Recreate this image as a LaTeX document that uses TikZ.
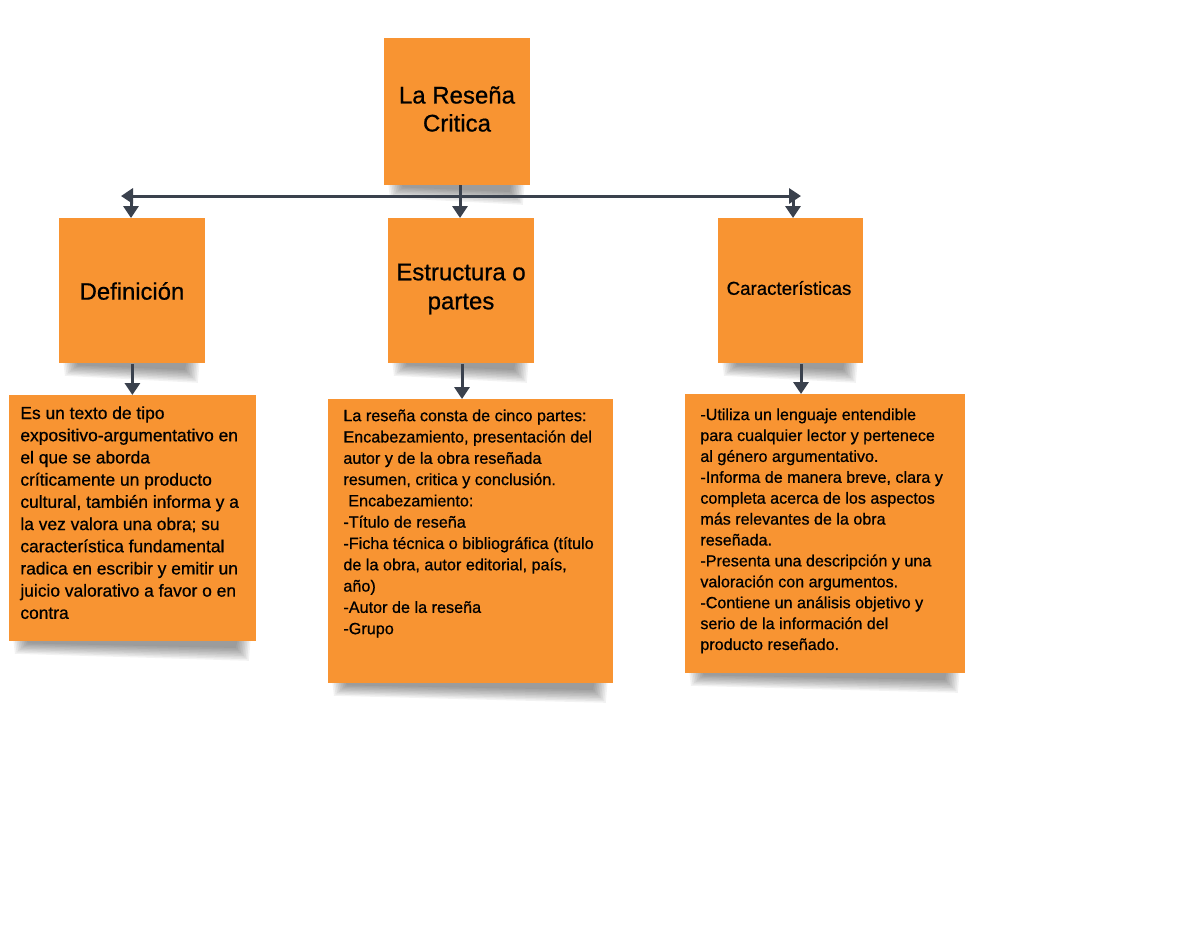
\documentclass[tikz,border=0pt]{standalone}
\usepackage{fontspec}
\setmainfont{Liberation Sans}[FakeBold=0.7]
\usetikzlibrary{arrows.meta,calc}
\definecolor{boxor}{RGB}{248,148,50}
\definecolor{conn}{RGB}{58,65,77}
\pgfdeclarelayer{bg}
\pgfdeclarelayer{shad}
\pgfsetlayers{bg,shad,main}
\tikzset{
  card/.style={fill=boxor, draw=none, inner sep=0pt, anchor=north west},
  desc/.style={anchor=north west, inner sep=0pt, align=left},
  conline/.style={draw=conn, line width=1.5pt},
  tip/.style={-{Triangle[width=7.5pt,length=6pt]}},
  shadlayer/.style={fill=black, fill opacity=0.05},
}
\newcommand{\cardshadow}[1]{%
  \foreach \k in {0,...,8}{%
    \path[shadlayer] ($(#1.south west)+(4+1.6*\k,-4)$) -- ($(#1.south east)+(-6-1.6*\k,-4)$)
      -- ($(#1.south east)+(-8-1.6*\k,19-1.6*\k)$) -- ($(#1.south west)+(6+1.6*\k,12-1.3*\k)$) -- cycle;}}
\begin{document}
\begin{tikzpicture}[x=0.5pt,y=-0.5pt]
\begin{pgfonlayer}{bg}
\fill[white] (0,0) rectangle (1200,927);
\end{pgfonlayer}
\useasboundingbox (0,0) rectangle (1200,927);
% top
\node[card, minimum width=73pt, minimum height=73.5pt] (top) at (384,38) {};
\node[align=center, font=\fontsize{12}{14}\selectfont] (toptxt) at (457,109) {La Reseña\\Critica};
% second level
\node[card, minimum width=73pt, minimum height=72.5pt] (def) at (59,218) {};
\node[font=\fontsize{11.9}{14}\selectfont] (deftxt) at (132,291) {Definición};
\node[card, minimum width=73pt, minimum height=72.5pt] (est) at (388,218) {};
\node[align=center, font=\fontsize{12}{14.5}\selectfont] (esttxt) at (461,289) {Estructura o\\partes};
\node[card, minimum width=72.5pt, minimum height=72.5pt] (car) at (718,218) {};
\node[font=\fontsize{9.35}{11}\selectfont] (cartxt) at (789,288) {Características};
% third level
\node[card, minimum width=123.5pt, minimum height=123pt] (defb) at (9,395) {};
\node[desc, font=\fontsize{8.7}{11.1}\selectfont] (defbtxt) at (20,406) {Es un texto de tipo\\expositivo-argumentativo en\\el que se aborda\\críticamente un producto\\cultural, también informa y a\\la vez valora una obra; su\\característica fundamental\\radica en escribir y emitir un\\juicio valorativo a favor o en\\contra};
\node[card, minimum width=142.5pt, minimum height=142pt] (estb) at (328,399) {};
\node[desc, font=\fontsize{8.1}{10.65}\selectfont] (estbtxt) at (343,409) {La reseña consta de cinco partes:\\Encabezamiento, presentación del\\autor y de la obra reseñada\\resumen, critica y conclusión.\\\hspace*{0.3em}Encabezamiento:\\-Título de reseña\\-Ficha técnica o bibliográfica (título\\de la obra, autor editorial, país,\\año)\\-Autor de la reseña\\-Grupo};
\node[card, minimum width=140pt, minimum height=139.5pt] (carb) at (685,394) {};
\node[desc, font=\fontsize{8.05}{10.45}\selectfont] (carbtxt) at (700,408) {-Utiliza un lenguaje entendible\\para cualquier lector y pertenece\\al género argumentativo.\\-Informa de manera breve, clara y\\completa acerca de los aspectos\\más relevantes de la obra\\reseñada.\\-Presenta una descripción y una\\valoración con argumentos.\\-Contiene un análisis objetivo y\\serio de la información del\\producto reseñado.};
% shadows
\begin{pgfonlayer}{shad}
\cardshadow{top}
\cardshadow{def}
\cardshadow{est}
\cardshadow{car}
\cardshadow{defb}
\cardshadow{estb}
\cardshadow{carb}
\end{pgfonlayer}
% connectors
\coordinate (hl) at (121,196);
\coordinate (hr) at (801,196);
\coordinate (hdl) at (131,196);
\coordinate (hdr) at (793,196);
\coordinate (topdrop) at (460,185);
\draw[conline, {Triangle[width=7.5pt,length=6pt]}-{Triangle[width=7.5pt,length=6pt]}] (hl) -- (hr);
\draw[conline, tip] (hdl) -- (hdl |- def.north);
\draw[conline, tip] (topdrop) -- (topdrop |- est.north);
\draw[conline, tip] (hdr) -- (hdr |- car.north);
\draw[conline, tip] (def.south) -- (def.south |- defb.north);
\draw[conline, tip] (est.south -| 462,0) -- (462,0 |- estb.north);
\draw[conline, tip] (car.south -| 801,0) -- (801,0 |- carb.north);
\end{tikzpicture}
\end{document}
